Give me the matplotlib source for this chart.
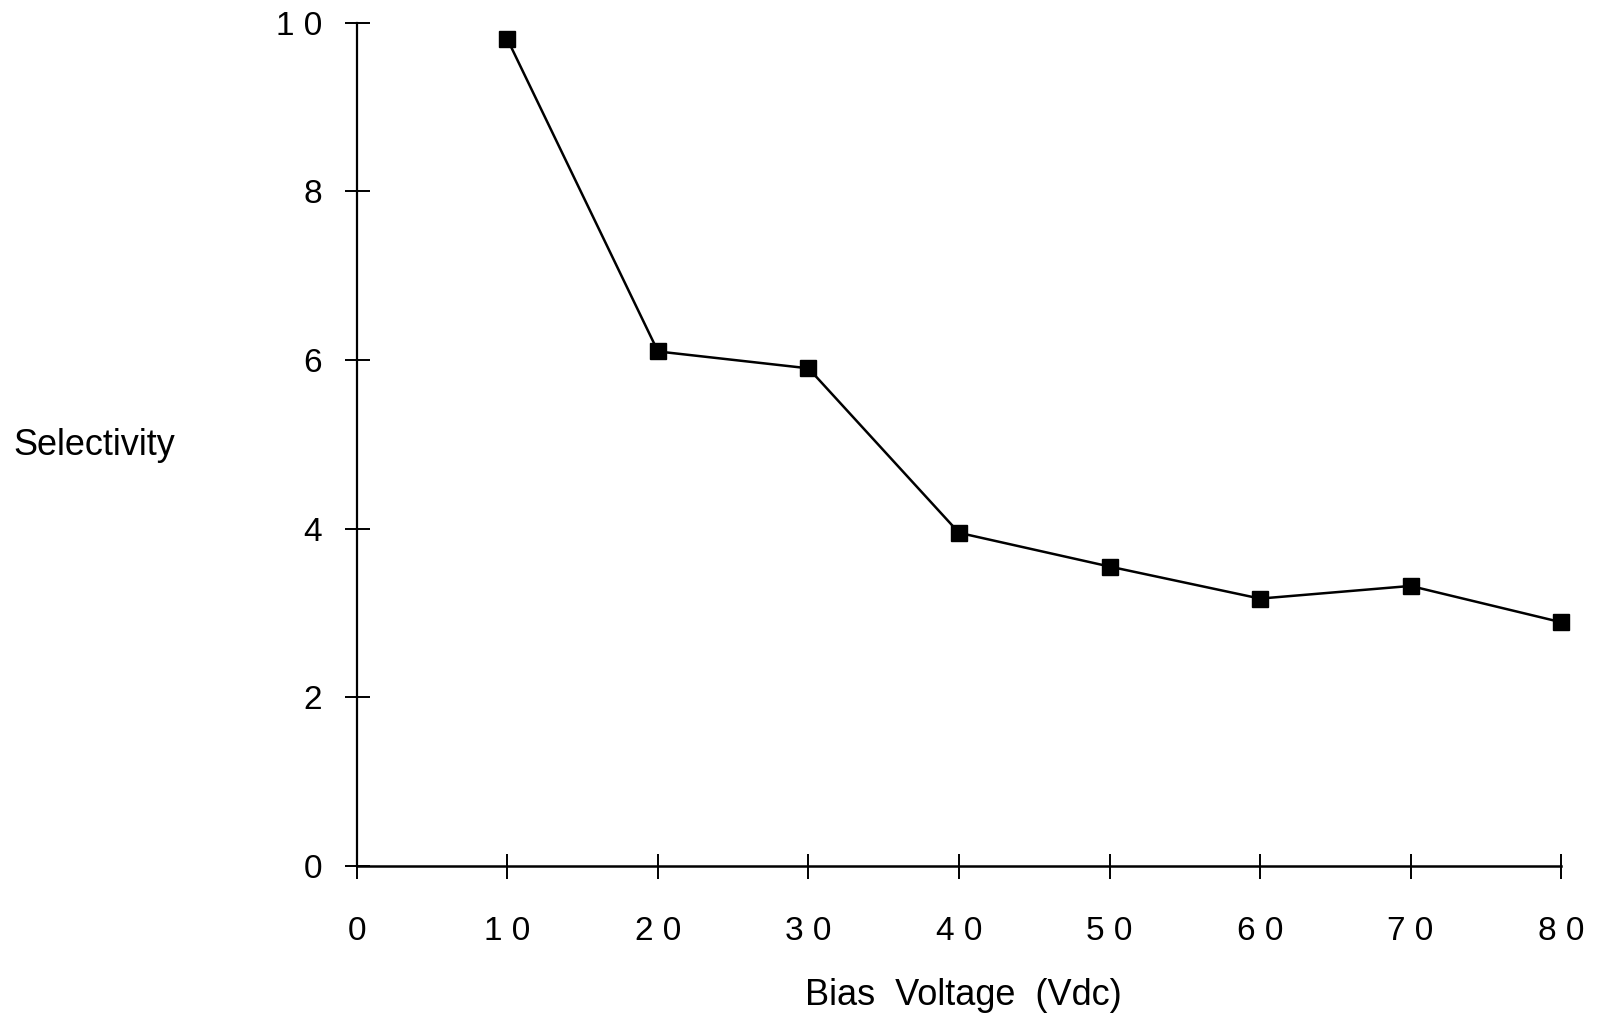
import matplotlib.pyplot as plt

# data
bias_voltage = [10, 20, 30, 40, 50, 60, 70, 80]
selectivity = [9.8, 6.1, 5.9, 3.95, 3.55, 3.17, 3.32, 2.89]

x_ticks = [0, 10, 20, 30, 40, 50, 60, 70, 80]
x_tick_labels = ['0', '1 0', '2 0', '3 0', '4 0', '5 0', '6 0', '7 0', '8 0']
y_ticks = [0, 2, 4, 6, 8, 10]
y_tick_labels = ['0', '2', '4', '6', '8', '1 0']

plt.rcParams['font.family'] = ['Liberation Sans', 'DejaVu Sans']

fig = plt.figure(figsize=(15.97, 10.23), dpi=100)
ax = fig.add_axes([0.2235, 0.1535, 0.754, 0.8245])

ax.plot(bias_voltage, selectivity, color='black', linewidth=1.8,
        marker='s', markersize=11, markerfacecolor='black', markeredgecolor='black',
        clip_on=False)

ax.set_xlim(0, 80)
ax.set_ylim(0, 10)
ax.set_xticks(x_ticks)
ax.set_xticklabels(x_tick_labels)
ax.set_yticks(y_ticks)
ax.set_yticklabels(y_tick_labels)

ax.spines['top'].set_visible(False)
ax.spines['right'].set_visible(False)
ax.spines['left'].set_linewidth(1.6)
ax.spines['bottom'].set_linewidth(1.8)
ax.tick_params(axis='both', direction='inout', length=18, width=1.4, labelsize=24)
ax.tick_params(axis='x', pad=27)
ax.tick_params(axis='y', pad=16)

ax.set_xlabel('Bias  Voltage  (Vdc)', fontsize=26, va='center')
ax.xaxis.set_label_coords(0.504, -0.153)
ax.set_ylabel('Selectivity', fontsize=26, rotation=0, ha='left', va='center')
ax.yaxis.set_label_coords(-0.285, 0.498)

fig.savefig('out.png', dpi=100)
